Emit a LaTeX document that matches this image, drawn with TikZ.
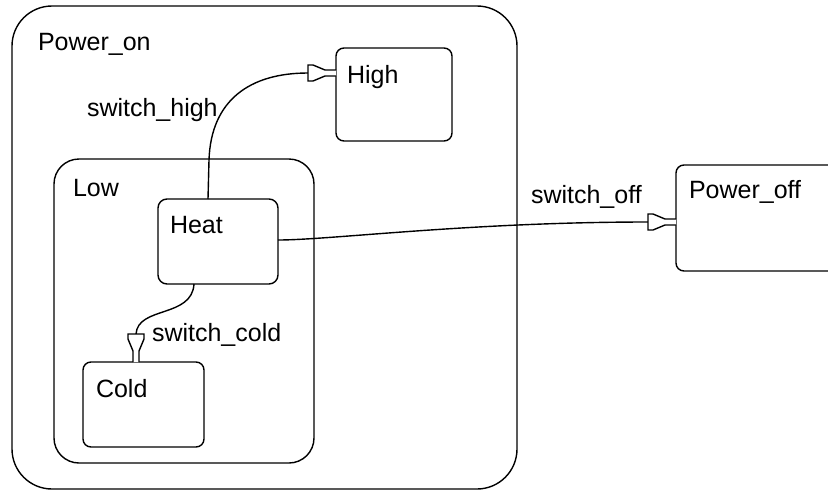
\documentclass[tikz,border=0pt]{standalone}
\usepackage{fontspec}
\setmainfont{Liberation Sans}
\usetikzlibrary{arrows.meta,calc}
\pgfdeclarearrow{
  name = StateTip,
  setup code = {
    \pgfarrowssettipend{0pt}
    \pgfarrowssetlineend{0pt}
    \pgfarrowssetbackend{-28pt}
    \pgfarrowshullpoint{0pt}{3pt}
    \pgfarrowshullpoint{0pt}{-3pt}
    \pgfarrowshullpoint{-28pt}{8pt}
    \pgfarrowshullpoint{-28pt}{-8pt}
  },
  drawing code = {
    \pgfsetfillcolor{white}
    \pgfsetdash{}{0pt}
    \pgfsetmiterjoin
    \pgfpathmoveto{\pgfqpoint{0pt}{3pt}}
    \pgfpathlineto{\pgfqpoint{-11pt}{3pt}}
    \pgfpathlineto{\pgfqpoint{-23pt}{8pt}}
    \pgfpathlineto{\pgfqpoint{-28pt}{8pt}}
    \pgfpathlineto{\pgfqpoint{-28pt}{-8pt}}
    \pgfpathlineto{\pgfqpoint{-23pt}{-8pt}}
    \pgfpathlineto{\pgfqpoint{-11pt}{-3pt}}
    \pgfpathlineto{\pgfqpoint{0pt}{-3pt}}
    \pgfusepathqfillstroke
  }
}
\begin{document}
\begin{tikzpicture}[x=1pt,y=-1pt,
  every node/.style={inner sep=0pt,outer sep=0pt},
  statebox/.style={draw,line width=1.4pt,rectangle},
  txt/.style={anchor=base west,font=\fontsize{25}{30}\selectfont,text=black},
  trans/.style={line width=1.4pt,-{StateTip}}]
\useasboundingbox (0,0) rectangle (828,491);
\clip (0,0) rectangle (828,491);
% states
\node[statebox,rounded corners=40pt,minimum width=505pt,minimum height=483pt] (PowerOn) at (264.5,247.5) {};
\node[statebox,rounded corners=8pt,minimum width=116pt,minimum height=93pt] (High) at (394,94.5) {};
\node[statebox,rounded corners=25pt,minimum width=260pt,minimum height=304pt] (Low) at (184,311) {};
\node[statebox,rounded corners=9pt,minimum width=120pt,minimum height=85pt] (Heat) at (218,241.5) {};
\node[statebox,rounded corners=8pt,minimum width=121pt,minimum height=85pt] (Cold) at (143.5,404.5) {};
\node[statebox,rounded corners=8pt,minimum width=170pt,minimum height=106pt] (PowerOff) at (761,218) {};
% state names
\node[txt] (tPowerOn) at (38,50) {Power\_on};
\node[txt] (tHigh) at (347,83) {High};
\node[txt] (tLow) at (73,196) {Low};
\node[txt] (tHeat) at (170,233) {Heat};
\node[txt] (tCold) at (96,397) {Cold};
\node[txt] (tPowerOff) at (689,198) {Power\_off};
% transitions
\coordinate (hTip) at ($(High.north west)+(0,25)$);
\coordinate (cTip) at ($(Cold.north)+(-7.5,0)$);
\coordinate (oTip) at ($(PowerOff.north west)+(0,57)$);
\draw[trans] ($(Heat.north)+(-10,0)$) -- (209,160)
  .. controls (211,100) and (250,73) .. ($(hTip)+(-28,0)$) -- (hTip);
\draw[trans] ($(Heat.north east)+(0,41)$)
  .. controls (330,240) and (470,222) .. ($(oTip)+(-28,0)$) -- (oTip);
\draw[trans] ($(Heat.south)+(-24,0)$)
  .. controls (192,318) and (138,306) .. ($(cTip)+(0,-28)$) -- (cTip);
% transition labels
\node[txt] (lHigh) at (87,116) {switch\_high};
\node[txt] (lOff) at (531,203) {switch\_off};
\node[txt] (lCold) at (152,341) {switch\_cold};
\end{tikzpicture}
\end{document}
